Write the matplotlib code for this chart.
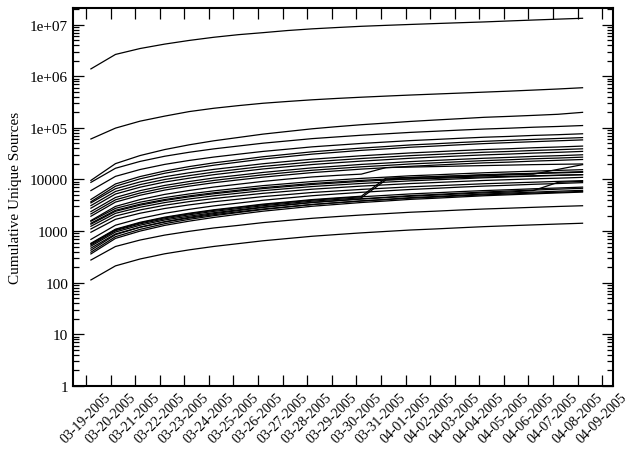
import numpy as np
import matplotlib
matplotlib.use("Agg")
import matplotlib.pyplot as plt
from matplotlib.ticker import FixedLocator, FixedFormatter, LogLocator, NullFormatter, NullLocator

plt.rcParams['font.family'] = ['Liberation Serif', 'DejaVu Serif']

# tick labels on the date axis (one per day)
date_labels = ['03-19-2005', '03-20-2005', '03-21-2005', '03-22-2005', '03-23-2005',
               '03-24-2005', '03-25-2005', '03-26-2005', '03-27-2005', '03-28-2005',
               '03-29-2005', '03-30-2005', '03-31-2005', '04-01-2005', '04-02-2005',
               '04-03-2005', '04-04-2005', '04-05-2005', '04-06-2005', '04-07-2005',
               '04-08-2005', '04-09-2005']

# daily sample offset (samples taken a few hours after midnight)
sample_offset = 0.2

y_ticks = [1, 10, 100, 1000, 10000, 1e5, 1e6, 1e7]
y_tick_labels = ['1', '10', '100', '1000', '10000', '1e+05', '1e+06', '1e+07']

# cumulative unique sources, one value per day 03-19 .. 04-08
top_series = [
    [1390000, 2650000, 3450000, 4200000, 4950000, 5700000, 6400000, 7000000, 7700000, 8300000,
     8800000, 9300000, 9700000, 10100000, 10500000, 10900000, 11300000, 11800000, 12300000,
     12800000, 13300000],
    [61000, 99000, 135000, 169000, 207000, 240000, 270000, 300000, 325000, 350000, 372000,
     393000, 413000, 433000, 452000, 472000, 493000, 515000, 540000, 567000, 600000],
    [9600, 20300, 29100, 38000, 47000, 56200, 65200, 75700, 85300, 96000, 105600, 115200,
     123800, 133400, 142000, 150700, 160300, 167000, 174700, 183400, 200000],
    [8800, 16500, 22400, 28200, 33700, 39200, 44500, 50500, 55900, 61900, 66800, 72000,
     76700, 81800, 86000, 90600, 95000, 98600, 103000, 106500, 111000],
]

middle_series = [
    [6100, 11500, 15600, 19600, 23400, 27200, 30900, 35000, 38700, 42900, 46300, 49900,
     53200, 56700, 59600, 62800, 65900, 68300, 71400, 73800, 76900],
    [4100, 8200, 11400, 14600, 17800, 21000, 24000, 27600, 30800, 34400, 37400, 40600,
     43500, 46700, 49200, 52100, 54900, 57400, 59900, 62300, 64800],
    [3700, 7400, 10300, 13200, 16000, 18900, 21700, 24900, 27800, 31000, 33700, 36700,
     39200, 42200, 44400, 47000, 49600, 51800, 54000, 56200, 58500],
    [3520, 6620, 8980, 11300, 13500, 15700, 17800, 20200, 22400, 24700, 26700, 28800,
     30700, 32700, 34400, 36300, 38000, 39400, 41200, 42600, 44400],
    [3120, 5870, 7960, 10000, 11900, 13900, 15800, 17900, 19800, 21900, 23700, 25500,
     27200, 29000, 30500, 32100, 33700, 34900, 36500, 37800, 39300],
    [2780, 5230, 7090, 8920, 10600, 12400, 14100, 16000, 17700, 19500, 21100, 22700,
     24200, 25800, 27200, 28600, 30000, 31100, 32500, 33600, 35000],
    [2390, 4490, 6090, 7670, 9150, 10700, 12100, 13700, 15200, 16800, 18100, 19600,
     20800, 22200, 23400, 24600, 25800, 26800, 28000, 28900, 30100],
    [2150, 4040, 5480, 6900, 8230, 9590, 10900, 12300, 13700, 15100, 16300, 17600,
     18700, 20000, 21000, 22100, 23200, 24100, 25200, 26000, 27100],
    [1940, 3650, 4950, 6230, 7430, 8650, 9820, 11100, 12300, 13600, 14700, 15900,
     16900, 18000, 19000, 20000, 21000, 21700, 22700, 23500, 24400],
    [1600, 3010, 4080, 5140, 6130, 7140, 8100, 9180, 10200, 11200, 12000, 12700,
     17000, 17400, 17800, 18200, 18600, 19000, 19400, 19700, 20000],
    [1550, 2760, 3630, 4460, 5250, 6030, 6770, 7600, 8320, 9130, 9780, 10500,
     11100, 11800, 12300, 12900, 13500, 14000, 14500, 15000, 15500],
    [1420, 2530, 3320, 4090, 4810, 5520, 6210, 6960, 7630, 8360, 8960, 9600,
     10200, 10800, 11300, 11800, 12400, 12800, 13200, 13700, 14200],
    [1360, 2420, 3180, 3920, 4610, 5290, 5940, 6660, 7300, 8010, 8580, 9190,
     9740, 10300, 10800, 11300, 11800, 12300, 12700, 15700, 19400],
    [1240, 2210, 2900, 3570, 4200, 4820, 5420, 6080, 6660, 7300, 7820, 8380,
     8880, 9410, 9850, 10300, 10800, 11200, 11600, 12000, 12400],
    [1100, 1960, 2570, 3170, 3730, 4280, 4810, 5390, 5910, 6480, 6940, 7440,
     7880, 8350, 8730, 9150, 9580, 9920, 10300, 10600, 11000],
    [950, 1690, 2220, 2740, 3220, 3700, 4150, 4660, 5100, 5600, 5990, 6420,
     6800, 7210, 7540, 7900, 8270, 8570, 8860, 9180, 9500],
]

lower_series = [
    [690, 1300, 1760, 2210, 2640, 3080, 3490, 3960, 4380, 4850, 5240, 5640,
     6020, 6410, 6740, 7110, 7450, 7730, 8070, 8350, 8690],
    [580, 1090, 1480, 1860, 2220, 2590, 2930, 3330, 3680, 4080, 4400, 4740,
     10600, 11000, 11400, 11800, 12200, 12600, 13000, 13400, 13800],
    [540, 1020, 1380, 1730, 2070, 2410, 2730, 3100, 3430, 3800, 4100, 4420,
     9800, 10200, 10500, 10900, 11200, 11500, 11800, 12100, 12400],
    [565, 1060, 1440, 1810, 2160, 2520, 2860, 3240, 3590, 3970, 4290, 4620,
     4930, 5250, 5520, 5820, 6100, 6330, 6610, 6840, 7120],
    [510, 960, 1300, 1640, 1950, 2270, 2580, 2930, 3240, 3590, 3870, 4170,
     4450, 4740, 4980, 5250, 5510, 5710, 6100, 8800, 9200],
    [467, 880, 1190, 1500, 1790, 2080, 2360, 2680, 2970, 3280, 3540, 3820,
     4070, 4340, 4560, 4810, 5040, 5230, 5460, 5650, 5880],
    [427, 854, 1190, 1520, 1850, 2180, 2500, 2870, 3210, 3580, 3890, 4230,
     4530, 4870, 5120, 5420, 5720, 5980, 6230, 6490, 6750],
    [390, 780, 1080, 1390, 1690, 1990, 2290, 2620, 2930, 3270, 3560, 3860,
     4130, 4450, 4680, 4950, 5230, 5460, 5690, 5930, 6160],
    [361, 722, 1000, 1290, 1560, 1840, 2120, 2430, 2710, 3030, 3290, 3580,
     3830, 4120, 4330, 4580, 4840, 5050, 5270, 5490, 5700],
]

bottom_series = [
    [275, 503, 671, 836, 990, 1150, 1290, 1460, 1610, 1770, 1910, 2050,
     2180, 2320, 2430, 2560, 2680, 2780, 2890, 3000, 3100],
    [113, 212, 288, 363, 433, 504, 572, 649, 718, 794, 858, 924,
     985, 1050, 1100, 1160, 1220, 1270, 1320, 1370, 1420],
]

fig = plt.figure(figsize=(6.29, 4.52), dpi=100)
ax = fig.add_axes([0.116, 0.144, 0.859, 0.836])

for group in (top_series, middle_series, lower_series, bottom_series):
    for vals in group:
        x = np.arange(len(vals)) + sample_offset
        ax.plot(x, vals, color='black', linewidth=0.9)

ax.set_yscale('log')
ax.set_ylim(1, 2.1e7)
ax.set_xlim(-0.53, 21.45)

ax.yaxis.set_major_locator(FixedLocator(y_ticks))
ax.yaxis.set_major_formatter(FixedFormatter(y_tick_labels))
ax.yaxis.set_minor_locator(LogLocator(base=10, subs=np.arange(2, 10), numticks=20))
ax.yaxis.set_minor_formatter(NullFormatter())

ax.set_xticks(np.arange(len(date_labels)))
ax.set_xticklabels(date_labels, rotation=45, ha='center', va='top', fontsize=10)
ax.xaxis.set_minor_locator(NullLocator())

ax.tick_params(which='both', direction='in', top=True, right=True, width=0.9)
ax.tick_params(axis='y', labelsize=11)
ax.tick_params(which='major', length=8)
ax.tick_params(which='minor', length=4)
ax.tick_params(axis='x', pad=3)

for s in ax.spines.values():
    s.set_linewidth(1.5)

ax.set_ylabel('Cumulative Unique Sources', fontsize=11, labelpad=6)

fig.savefig('out.png', dpi=100)
